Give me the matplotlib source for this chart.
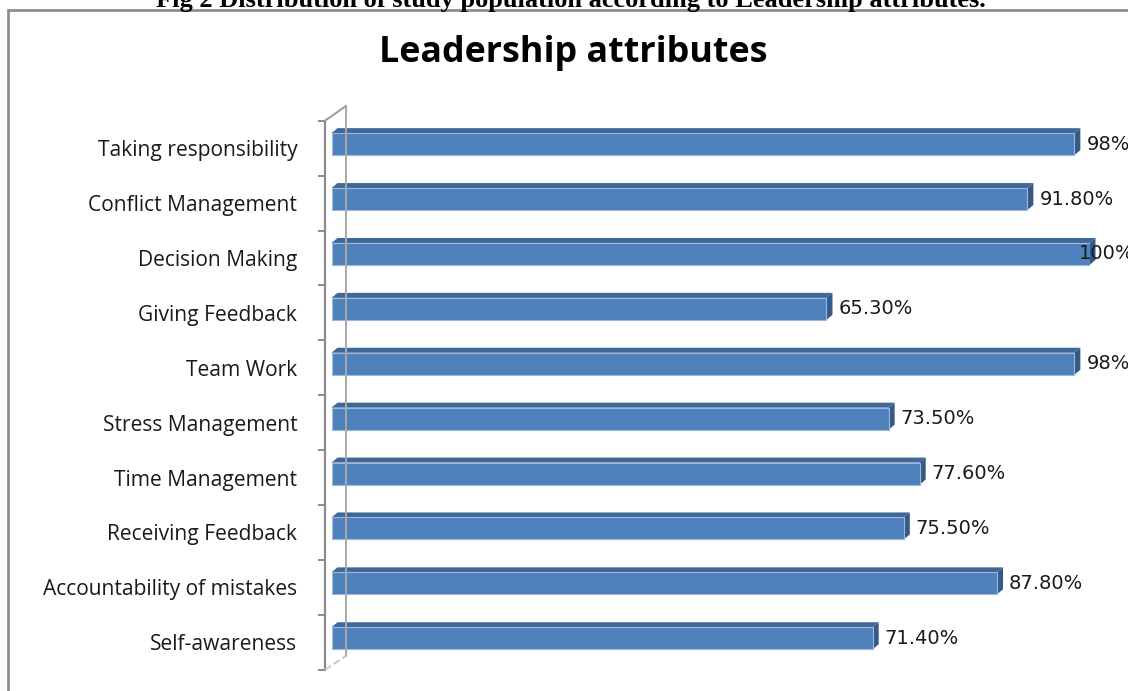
import matplotlib
matplotlib.use("Agg")
import matplotlib.pyplot as plt
from matplotlib.patches import Polygon, Rectangle
from matplotlib.lines import Line2D

# data, top to bottom as in the chart
attributes = ["Taking responsibility", "Conflict Management", "Decision Making",
              "Giving Feedback", "Team Work", "Stress Management", "Time Management",
              "Receiving Feedback", "Accountability of mistakes", "Self-awareness"]
percent = [98, 91.8, 100, 65.3, 98, 73.5, 77.6, 75.5, 87.8, 71.4]
percent_labels = ["98%", "91.80%", "100%", "65.30%", "98%", "73.50%", "77.60%",
                  "75.50%", "87.80%", "71.40%"]

W, H = 1128, 691
fig = plt.figure(figsize=(W / 100, H / 100), dpi=100)
fig.patch.set_facecolor("white")


def px(x, y):
    return x / W, 1 - y / H


# plot area in pixels (value 0 at x=331.5, 100 at 1089.5)
x0, x1 = 331.5, 1089.5
ytop, ybot = 120.7, 669.7
ax = fig.add_axes([x0 / W, 1 - ybot / H, (x1 - x0) / W, (ybot - ytop) / H])
ax.set_xlim(0, 100)
ax.set_ylim(len(attributes) - 0.5, -0.5)
ax.patch.set_alpha(0)

ppx = (x1 - x0) / 100.0          # pixels per x unit
ppy = (ybot - ytop) / len(attributes)  # pixels per category
dx = 6 / ppx
dy = 5 / ppy
shift = 4 / ppy
h = 22 / ppy

front = "#4F81BD"
topc = "#3F6797"
side = "#365A88"

ys = [i - shift for i in range(len(attributes))]
ax.barh(ys, percent, height=h, color=front, edgecolor="#9DB8DA", linewidth=0.8, zorder=3)
for yc, v in zip(ys, percent):
    t, b = yc - h / 2, yc + h / 2
    ax.add_patch(Polygon([(0, t), (v, t), (v + dx, t - dy), (dx, t - dy)],
                         closed=True, facecolor=topc, edgecolor="none", clip_on=False, zorder=2))
    ax.add_patch(Polygon([(v, t), (v + dx, t - dy), (v + dx, b - dy), (v, b)],
                         closed=True, facecolor=side, edgecolor="none", clip_on=False, zorder=2))

for yc, v, lab in zip(ys, percent, percent_labels):
    off = -8 if v >= 100 else 8.6
    ax.annotate(lab, (v, yc), xytext=(off, 0), textcoords="offset points",
                ha="left", va="center", fontsize=14, family="DejaVu Sans", color="#1a1a1a",
                annotation_clip=False, zorder=5)

# axis styling
for s in ["top", "right", "bottom"]:
    ax.spines[s].set_visible(False)
ax.spines["left"].set_position(("outward", 4.7))
ax.spines["left"].set_color("#8C8C8C")
ax.spines["left"].set_linewidth(1.6)
ax.set_xticks([])
ax.set_yticks(range(len(attributes)))
ax.set_yticklabels(attributes, fontsize=15.1, family="Open Sans", color="#1a1a1a")
ax.set_yticks([i - 0.5 for i in range(len(attributes) + 1)], minor=True)
ax.tick_params(axis="y", which="major", length=0, pad=20)
ax.tick_params(axis="y", which="minor", length=5, width=1.4, color="#8C8C8C")

# 3D back wall lines
gray = "#9A9A9A"
for (xa, ya), (xb, yb), ls, c in [((325, 120.7), (346, 106), "-", gray),
                                  ((346, 106), (346, 656), "-", "#A8A8A8"),
                                  ((325, 669.7), (346, 656), "--", "#C8C8C8")]:
    p1, p2 = px(xa, ya), px(xb, yb)
    fig.add_artist(Line2D([p1[0], p2[0]], [p1[1], p2[1]], color=c, lw=1.4, ls=ls,
                          transform=fig.transFigure))

# outer frame of the chart
fx, fy = px(8, 9.5)
fig.add_artist(Rectangle((fx, -0.1), 1.2, fy + 0.1, transform=fig.transFigure,
                         fill=False, edgecolor="#8A8A8A", lw=1.9))

tx, ty = px(573, 62)
fig.text(tx, ty, "Leadership attributes", ha="center", va="baseline",
         fontsize=25.8, fontweight="bold", family="Open Sans", color="black")

cx, cy = px(571, 7)
fig.text(cx, cy, "Fig 2 Distribution of study population according to Leadership attributes.",
         ha="center", va="baseline", fontsize=19, fontweight="bold",
         family="Liberation Serif", color="black")

fig.savefig("out.png", dpi=100)
